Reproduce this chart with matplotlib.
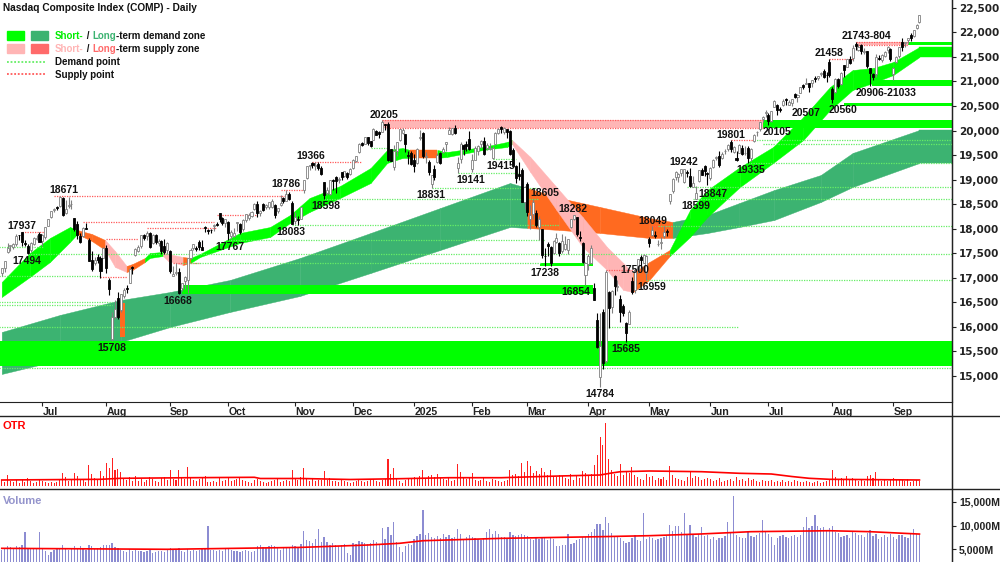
#!/usr/bin/env python3
"""Nasdaq Composite daily chart with demand/supply zones, OTR and volume panels."""

import matplotlib

matplotlib.use("Agg")
import matplotlib.pyplot as plt
import numpy as np
from matplotlib.lines import Line2D
from matplotlib.patches import Rectangle

W, H = 1000, 562

# daily OHLC, 10 Jun 2024 .. 15 Sep 2025, one line per month
opens = [
    17090, 17200, 17530, 17650, 17620, 17690, 17870, 17930, 17700, 17640, 17560, 17690, 17800, 17890,
    17740, 17830, 18060, 18230, 18390, 18440, 18460, 18620, 18310, 18460, 18500, 18210, 18100, 17850, 17860, 18010, 17770, 17360, 17300, 17420, 17400, 17410,
    17600, 16960, 15750, 16200, 16580, 16350, 16630, 16800, 16900, 17220, 17460, 17540, 17640, 17870, 17850, 17920, 17700, 17880, 17700, 17750, 17640, 17570,
    17540, 17040, 17100, 17120, 16800, 16930, 16950, 17400, 17600, 17600, 17730, 17620, 18030, 17980, 17980, 18060, 18100, 18310, 18220, 18110,
    18140, 17860, 17850, 18110, 18090, 17990, 18180, 18220, 18250, 18400, 18500, 18330, 18510, 18450, 18450, 18450, 18490, 18360, 18480, 18620, 18570, 18710, 18530,
    18150, 18200, 18200, 18780, 19030, 19280, 19330, 19280, 19320, 19240, 18950, 18720, 18700, 19000, 19050, 18990, 19150, 19070, 19140, 19110,
    19240, 19370, 19560, 19740, 19730, 19860, 19780, 19800, 19990, 19980, 19980, 20130, 20130, 19630, 19250, 19580, 19800, 19950, 19920, 19510, 19550,
    19400, 19340, 19850, 19940, 19460, 19360, 18920, 19220, 19350, 19550, 19570, 19730, 19930, 19930, 20050, 19230, 19410, 19700, 19720, 19830,
    19220, 19400, 19580, 19720, 19790, 19650, 19620, 19440, 19720, 19950, 20080, 19970, 20030, 19990, 19610, 19280, 19120, 19200, 18540,
    18920, 18200, 18300, 18320, 18040, 17990, 17440, 17680, 17620, 17500, 17730, 17710, 17540, 17590, 17560, 18040, 18200, 18230, 17840, 17700, 17060,
    17280, 17300, 16800, 16150, 14980, 16300, 15300, 16720, 16410, 17040, 16820, 16560, 16430, 16070, 16060, 16940, 16750, 17150, 17420, 17310, 17100,
    17790, 17880, 17880, 17680, 17710, 17860, 17960, 18560, 18760, 19060, 19060, 19140, 18950, 19150, 19070, 18850, 18600, 18970, 19200, 19280, 19130,
    19040, 19250, 19440, 19480, 19450, 19580, 19620, 19760, 19570, 19450, 19550, 19650, 19540, 19650, 19440, 19780, 19970, 20030, 20240, 20350,
    20320, 20200, 20480, 20530, 20440, 20530, 20640, 20530, 20560, 20750, 20690, 20770, 20930, 20950, 20960, 20970, 21080, 21070, 21150, 21220, 21140, 21400,
    20850, 20780, 21050, 20950, 21330, 21300, 21450, 21470, 21770, 21650, 21740, 21590, 21610, 21280, 21150, 21150, 21480, 21440, 21520, 21650, 21660,
    21150, 21390, 21510, 21800, 21790, 21840, 21950, 21920, 22080, 22220,
]
highs = [
    17195, 17345, 17700, 17670, 17700, 17900, 17880, 17937, 17760, 17690, 17730, 17830, 17870, 17940,
    17900, 18030, 18190, 18370, 18420, 18460, 18671, 18640, 18580, 18640, 18580, 18220, 18160, 17920, 18040, 18120, 17810, 17540, 17430, 17480, 17450, 17630,
    17660, 17000, 16300, 16550, 16720, 16680, 16790, 16860, 17190, 17250, 17600, 17660, 17880, 17900, 17950, 17940, 17900, 17900, 17800, 17780, 17800, 17720,
    17560, 17250, 17300, 17200, 16900, 17030, 17400, 17600, 17690, 17640, 17780, 17780, 18060, 18000, 18000, 18090, 18130, 18330, 18240, 18200,
    18150, 17980, 18010, 18140, 18110, 18200, 18300, 18320, 18360, 18530, 18560, 18380, 18530, 18510, 18550, 18600, 18500, 18430, 18690, 18640, 18786, 18750, 18560,
    18340, 18260, 18450, 18990, 19280, 19300, 19366, 19350, 19360, 19280, 18960, 18840, 19000, 19010, 19080, 19060, 19160, 19180, 19160, 19230,
    19410, 19490, 19740, 19770, 19870, 19870, 19790, 20050, 20010, 20000, 20205, 20140, 20180, 19630, 19700, 19770, 20030, 20050, 19930, 19590, 19580,
    19520, 19640, 20010, 19960, 19560, 19390, 19100, 19290, 19550, 19560, 19660, 19770, 20070, 20060, 20120, 19460, 19760, 19720, 19780, 20000,
    19520, 19680, 19700, 19800, 19860, 19740, 19740, 19680, 19960, 20050, 20090, 20070, 20040, 20020, 19640, 19300, 19350, 19230, 18870,
    18950, 18490, 18605, 18380, 18250, 18000, 17610, 17730, 17640, 17770, 17920, 17720, 17890, 17850, 17800, 18200, 18282, 18240, 17960, 17720, 17320,
    17480, 17660, 16900, 16290, 16290, 16360, 17150, 16730, 16760, 17060, 16960, 16640, 16470, 16090, 16340, 17010, 17190, 17390, 17460, 17480, 17470,
    17840, 18049, 17950, 17780, 17830, 18050, 17990, 18710, 19030, 19170, 19130, 19220, 19220, 19190, 19242, 19070, 18870, 19200, 19230, 19290, 19160,
    19250, 19420, 19480, 19590, 19560, 19620, 19730, 19801, 19680, 19580, 19730, 19700, 19680, 19690, 19640, 19920, 20000, 20170, 20290, 20420,
    20350, 20400, 20630, 20550, 20480, 20640, 20660, 20620, 20650, 20770, 20750, 20890, 20950, 21080, 20970, 21020, 21110, 21110, 21200, 21250, 21200, 21458,
    20880, 21060, 21060, 21190, 21340, 21460, 21510, 21743, 21804, 21760, 21760, 21680, 21620, 21280, 21180, 21550, 21540, 21560, 21620, 21720, 21680,
    21290, 21520, 21710, 21880, 21810, 21880, 21990, 22050, 22180, 22360,
]
lows = [
    17040, 17110, 17510, 17540, 17580, 17640, 17760, 17640, 17640, 17494, 17520, 17660, 17760, 17720,
    17650, 17800, 18050, 18220, 18350, 18380, 18440, 18250, 18300, 18420, 18400, 17960, 17800, 17700, 17840, 17990, 17340, 17130, 17260, 17300, 17000, 17400,
    17100, 16650, 15708, 16170, 16170, 16300, 16580, 16700, 16890, 17080, 17440, 17520, 17600, 17780, 17780, 17600, 17680, 17690, 17640, 17480, 17480, 17480,
    17100, 17030, 17060, 16668, 16740, 16780, 16700, 17380, 17570, 17540, 17570, 17560, 17940, 17900, 17920, 17960, 18050, 18140, 18080, 18030,
    17767, 17800, 17830, 17960, 17900, 17960, 18140, 18180, 18240, 18380, 18230, 18260, 18360, 18400, 18400, 18420, 18210, 18310, 18470, 18520, 18560, 18580, 18090,
    18100, 18083, 18190, 18720, 19020, 19200, 19240, 19200, 19190, 19100, 18598, 18690, 18690, 18780, 18730, 18940, 19000, 19050, 19020, 19100,
    19220, 19360, 19540, 19680, 19730, 19710, 19660, 19800, 19900, 19850, 19980, 20020, 19370, 19370, 19200, 19480, 19780, 19920, 19560, 19320, 19290,
    19150, 19320, 19800, 19440, 19330, 19100, 18831, 18990, 19340, 19320, 19540, 19580, 19920, 19900, 19930, 19141, 19340, 19510, 19580, 19600,
    19150, 19390, 19500, 19650, 19500, 19600, 19600, 19415, 19700, 19930, 19950, 19920, 19840, 19500, 19270, 18930, 19000, 18540, 18400,
    18250, 17990, 18200, 18030, 17770, 17400, 17240, 17450, 17240, 17490, 17700, 17450, 17500, 17560, 17480, 18020, 18170, 17850, 17750, 17300, 16854,
    17150, 17280, 16540, 15580, 14784, 15140, 15260, 15980, 16290, 16640, 16730, 16100, 16220, 15685, 16050, 16670, 16700, 17090, 17200, 17300, 16959,
    17620, 17860, 17820, 17640, 17590, 17820, 17860, 18500, 18720, 19000, 18960, 19080, 18940, 19050, 18850, 18847, 18599, 18960, 19090, 19080, 18900,
    18990, 19230, 19390, 19250, 19420, 19530, 19580, 19570, 19550, 19380, 19540, 19500, 19510, 19335, 19380, 19760, 19890, 20000, 20170, 20280,
    20105, 20180, 20470, 20320, 20380, 20507, 20530, 20520, 20500, 20660, 20580, 20760, 20840, 20940, 20780, 20880, 20990, 21030, 21110, 21060, 20990, 21100,
    20560, 20770, 20870, 20930, 21100, 21290, 21350, 21420, 21650, 21630, 21560, 21560, 21270, 20906, 21030, 21100, 21440, 21400, 21500, 21570, 21420,
    21033, 21380, 21480, 21630, 21710, 21760, 21830, 21900, 22060, 22200,
]
closes = [
    17192, 17343, 17608, 17667, 17689, 17857, 17862, 17721, 17689, 17497, 17718, 17805, 17806, 17733,
    17880, 18029, 18188, 18352, 18403, 18429, 18647, 18283, 18398, 18473, 18509, 17997, 17871, 17727, 18008, 17997, 17342, 17182, 17358, 17370, 17147, 17599,
    17194, 16776, 16200, 16366, 16195, 16660, 16745, 16780, 17188, 17192, 17594, 17631, 17877, 17817, 17918, 17620, 17877, 17726, 17754, 17556, 17516, 17714,
    17136, 17084, 17128, 16691, 16885, 17026, 17396, 17570, 17684, 17593, 17628, 17573, 18014, 17948, 17974, 18074, 18082, 18190, 18120, 18189,
    17910, 17925, 17918, 18138, 17923, 18183, 18292, 18282, 18343, 18503, 18316, 18367, 18374, 18490, 18540, 18573, 18277, 18415, 18519, 18567, 18712, 18607, 18095,
    18240, 18180, 18439, 18983, 19269, 19287, 19299, 19282, 19231, 19107, 18680, 18792, 18988, 18967, 18972, 19004, 19055, 19175, 19060, 19218,
    19404, 19480, 19735, 19701, 19860, 19737, 19687, 20034, 19903, 19927, 20173, 20109, 19393, 19372, 19573, 19764, 20031, 20020, 19722, 19487, 19311,
    19280, 19622, 19864, 19490, 19479, 19162, 19088, 19044, 19511, 19339, 19630, 19757, 20009, 20054, 19954, 19342, 19734, 19632, 19681, 19627,
    19392, 19654, 19692, 19791, 19523, 19714, 19643, 19650, 19945, 20027, 20041, 20056, 19962, 19524, 19287, 19027, 19075, 18544, 18847,
    18350, 18285, 18553, 18070, 18196, 17468, 17436, 17648, 17303, 17754, 17808, 17504, 17751, 17692, 17784, 18189, 18272, 17899, 17804, 17323, 17299,
    17450, 17601, 16551, 15588, 15603, 15268, 17125, 16387, 16724, 16832, 16824, 16307, 16287, 15870, 16300, 16708, 17166, 17383, 17366, 17461, 17446,
    17711, 17978, 17844, 17690, 17738, 17929, 17929, 18708, 19010, 19146, 19112, 19211, 19215, 19143, 18872, 18926, 18737, 19199, 19100, 19175, 19114,
    19243, 19399, 19460, 19298, 19530, 19591, 19715, 19615, 19662, 19407, 19701, 19521, 19546, 19447, 19631, 19913, 19974, 20168, 20273, 20370,
    20202, 20393, 20601, 20412, 20418, 20611, 20630, 20586, 20640, 20677, 20730, 20885, 20896, 20974, 20893, 21020, 21057, 21108, 21179, 21098, 21130, 21122,
    20650, 21053, 20916, 21169, 21243, 21450, 21385, 21682, 21713, 21711, 21623, 21630, 21315, 21172, 21100, 21497, 21449, 21544, 21590, 21705, 21456,
    21280, 21498, 21707, 21700, 21799, 21879, 21886, 22043, 22141, 22349,
]

# OTR bars (panel units) and volume (millions of shares)
otr = [
    6, 4, 11, 5, 4, 6, 3, 7, 4, 8, 5, 3, 4, 6,
    5, 4, 3, 4, 3, 4, 6, 13, 9, 5, 6, 13, 10, 7, 6, 4, 21, 12, 8, 6, 15, 10,
    23, 18, 28, 16, 17, 14, 8, 6, 9, 5, 10, 5, 7, 4, 6, 9, 7, 5, 4, 8, 9, 6,
    16, 7, 6, 16, 8, 7, 19, 8, 6, 5, 7, 9, 10, 4, 4, 5, 4, 8, 5, 6,
    9, 5, 6, 7, 8, 6, 5, 4, 3, 6, 7, 5, 4, 3, 4, 5, 6, 7, 4, 5, 6, 5, 16,
    7, 6, 9, 18, 8, 5, 7, 5, 6, 6, 15, 6, 8, 5, 5, 4, 6, 5, 4, 3,
    4, 5, 6, 5, 4, 5, 6, 7, 5, 4, 6, 7, 27, 12, 18, 7, 5, 3, 6, 8, 7,
    9, 8, 10, 16, 7, 10, 11, 9, 12, 8, 7, 6, 9, 5, 6, 22, 14, 8, 7, 9,
    13, 6, 5, 6, 9, 5, 4, 7, 6, 5, 4, 5, 6, 16, 11, 12, 10, 23, 14,
    25, 20, 13, 15, 12, 18, 14, 11, 16, 10, 9, 11, 10, 8, 7, 12, 6, 11, 8, 15, 13,
    10, 12, 21, 31, 49, 41, 63, 27, 16, 12, 10, 22, 11, 14, 13, 19, 11, 9, 7, 6, 12,
    9, 10, 6, 8, 7, 9, 6, 20, 11, 8, 7, 6, 5, 9, 14, 8, 10, 9, 6, 7, 8,
    7, 5, 6, 8, 4, 5, 6, 7, 5, 9, 6, 7, 5, 8, 6, 7, 5, 4, 6, 5,
    5, 6, 4, 5, 4, 6, 4, 5, 4, 6, 5, 4, 4, 5, 4, 3, 4, 5, 3, 4, 5, 6,
    16, 9, 7, 8, 6, 10, 7, 8, 6, 5, 6, 5, 10, 11, 8, 14, 6, 5, 6, 5, 7,
    8, 6, 7, 6, 5, 7, 4, 5, 6, 5,
]
volume = [
    4900, 5200, 5700, 5400, 5100, 5600, 5500, 5800, 8700, 5200, 5000, 5300, 5100, 8700,
    5000, 4600, 3900, 4400, 4800, 5000, 5300, 5800, 5200, 4900, 5100, 5600, 5300, 5600, 5000, 4800, 5900, 5600, 5000, 5200, 5400, 5800,
    5900, 6000, 6400, 5500, 5300, 4900, 4700, 4400, 5000, 4600, 4800, 4600, 4700, 4400, 4600, 4800, 4200, 4400, 4600, 4700, 4500, 5000,
    5300, 4800, 4900, 5200, 4600, 4500, 5000, 4700, 4800, 4600, 4900, 5100, 5300, 9900, 4800, 4900, 4700, 4900, 4700, 5200,
    5000, 4900, 4700, 4600, 4500, 4700, 4800, 4600, 4500, 4700, 5600, 5800, 5500, 5300, 5700, 5900, 5600, 5400, 4900, 5200, 5400, 5500, 5900,
    5700, 5500, 6200, 8900, 7000, 6800, 6400, 7200, 9250, 6600, 7500, 6500, 6000, 6300, 5800, 5600, 5900, 6200, 4300, 3900,
    6400, 6200, 6800, 6600, 6300, 6200, 6400, 7000, 6500, 6200, 9400, 7200, 9600, 8000, 10700, 6500, 5400, 4400, 5600, 6200, 6000,
    7200, 7800, 8300, 13200, 8000, 8400, 7600, 7300, 7800, 7400, 8200, 7600, 7900, 7300, 7600, 9200, 8300, 7200, 7500, 8000,
    7600, 7400, 7200, 7000, 7300, 8700, 9200, 8300, 8900, 8200, 7600, 7500, 7400, 8600, 8000, 7800, 8100, 8300, 7900,
    7800, 7200, 7000, 7600, 7100, 7500, 7400, 7000, 7300, 7200, 5700, 5600, 5800, 5900, 8300, 6200, 6400, 7000, 7200, 7500, 7600,
    8300, 8700, 9300, 10300, 10300, 9000, 11850, 10500, 8500, 7800, 7600, 7300, 6800, 6400, 6600, 7400, 7900, 7000, 6800, 12560, 7200,
    7600, 7400, 7000, 7100, 7300, 7600, 7800, 10150, 8800, 9900, 9900, 8600, 12700, 8300, 10150, 8000, 7600, 8200, 9600, 7800, 8000,
    7200, 7600, 7000, 7400, 7300, 7800, 10800, 8400, 16200, 8000, 7500, 7300, 7400, 8600, 7800, 7600, 8100, 8400, 11150, 8800,
    8200, 7600, 6000, 7400, 7800, 8000, 7600, 7400, 7800, 7900, 7600, 8100, 9600, 11700, 9500, 9800, 12300, 10000, 9400, 9600, 9000, 9400,
    9800, 8600, 8400, 7600, 7800, 8000, 7400, 8700, 8500, 7900, 8100, 7600, 8400, 9000, 7800, 8300, 7100, 7600, 7900, 7600, 8200,
    7500, 7200, 7900, 8000, 7600, 7400, 8200, 9250, 8300, 8100,
]

# moving averages drawn in the lower panels (trading-day index, value)
otr_ma_x = [0, 34, 41, 65, 87, 89, 103, 120, 137, 154, 172, 192, 206, 210, 213, 223, 241, 254, 265, 272, 278, 285, 316]
otr_ma = [6, 6.7, 7.7, 8.3, 8.7, 7.5, 7.5, 6.5, 7.3, 8.3, 8.3, 10, 11, 13, 14.3, 15, 14.3, 12.7, 12, 9.5, 7.7, 6.7, 6]
vol_ma_x = [0, 57, 103, 126, 137, 145, 172, 206, 223, 240, 258, 285, 299, 316]
vol_ma = [5200, 5000, 5400, 5900, 6260, 6800, 7300, 7650, 7860, 8200, 8700, 8900, 8700, 8200]

# month ticks (trading-day index of first session)
month_ticks = [14, 36, 58, 78, 101, 121, 142, 162, 181, 202, 223, 244, 264, 286, 307]
month_labels = ["Jul", "Aug", "Sep", "Oct", "Nov", "Dec", "2025", "Feb", "Mar", "Apr", "May", "Jun", "Jul", "Aug", "Sep"]

# short-term zone ribbon: g = demand, p = supply, o = supply (dark)
st_x = [0, 9.7, 16.6, 23.5, 26, 31, 35.6, 39, 43, 45, 49.3, 51, 55.5, 57.3, 62.4, 65, 68.3, 82, 92.4, 99.3,
        106, 116.5, 127, 132.7, 138, 140.6, 150, 153.3, 165.7, 174, 175.7, 182, 191, 200, 208.4, 214, 217.4,
        223, 230, 237, 243, 254.2, 265.6, 276, 285.2, 293, 300, 307, 316, 327.2]
st_hi = [16915, 17505, 17811, 18035, 17974, 17893, 17770, 17546, 17241, 17281, 17404, 17505, 17526, 17485, 17424,
         17404, 17485, 17913, 18035, 18280, 18626, 18870, 19237, 19604, 19644, 19604, 19604, 19563, 19665, 19767,
         19807, 19461, 18850, 18239, 17628, 17302, 17098, 17322, 17567, 18381, 18789, 19257, 19665, 20276, 20887,
         21233, 21274, 21396, 21702, 21702]
st_lo = [16609, 17017, 17322, 17730, 17893, 17750, 17567, 17220, 17118, 17159, 17322, 17404, 17444, 17343, 17261,
         17302, 17424, 17709, 17831, 18117, 18341, 18626, 18931, 19339, 19441, 19441, 19441, 19461, 19604, 19665,
         19726, 19155, 18381, 17628, 17159, 16752, 16711, 16956, 17444, 17831, 18239, 18850, 19339, 19807, 20418,
         20826, 20969, 21131, 21498, 21498]
st_state = "gggg" + "oo" + "pp" + "oo" + "gg" + "pp" + "o" + "g" * 10 + "o" + "g" * 4 + "p" * 6 + "oo" + "g" * 12

# long-term zone ribbon: G = demand, O = supply
lt_x = [0, 20, 41, 58, 78.6, 102.7, 127, 151, 175, 181, 192, 206, 223, 231, 243, 254, 266, 282, 293, 316, 327.2]
lt_hi = [15896, 16243, 16548, 16711, 16956, 17404, 17913, 18422, 18931, 18830, 18626, 18443, 18218, 18137, 18280,
         18524, 18789, 19094, 19543, 20011, 20011]
lt_lo = [15041, 15326, 15693, 15998, 16304, 16630, 17098, 17567, 18035, 18015, 17974, 17913, 17811, 17811, 17913,
         18035, 18178, 18544, 18850, 19339, 19339]
lt_state = "G" * 9 + "O" * 4 + "G" * 8

# horizontal zones
zone_lo = [15200, 16668, 17238, 20050, 20050, 21743, 21743, 20906, 20507, 15800]
zone_hi = [15708, 16854, 17300, 20205, 20205, 21804, 21804, 21033, 20560, 16480]
zone_from = [-1, 62, 185.4, 131, 262, 294, 312, 299.5, 290, 40.7]
zone_to = [328, 203.6, 203.6, 262, 328, 312, 328, 328, 328, 42.5]
zone_kind = ["d", "d", "d", "s", "d", "s", "d", "d", "d", "S"]

# demand (d) / supply (s) points
point_level = [17937, 18671, 18140, 18020, 17790, 17300, 17020, 18280, 18786, 19366, 19801, 21458, 17150, 18049,
               15163, 16004, 16513, 16446, 17037, 17634, 17494, 17300, 17767, 18083, 18598, 18831, 19141, 19415,
               19650, 16959, 18049, 18599, 18847, 19335, 19801, 19726]
point_from = [7, 18, 28, 50, 36, 59, 34, 74, 96, 107, 251, 285, 208, 224,
              -1, -1, -1, -1, -1, -1, 9, 62, 78, 100, 111, 148, 157, 169,
              127, 222, 226, 238, 236, 257, 259, 262]
point_to = [14.5, 98, 73, 74, 47, 68, 43, 88, 104, 124, 259, 293, 218, 230,
            328, 254, 38, 38, 34, 14.5, 328, 186, 187, 192, 185, 184, 178, 177,
            133, 328, 328, 328, 328, 328, 328, 328]
point_kind = list("s" * 14 + "d" * 22)

# price annotations
label_text = ["17937", "17494", "18671", "15708", "16668", "17767", "18083", "18786", "18598", "19366", "20205",
              "18831", "19141", "19415", "18605", "18282", "17238", "16854", "14784", "15685", "16959", "17500",
              "18049", "19242", "18847", "18599", "19801", "19335", "20105", "20507", "20560", "21458", "21743-804",
              "20906-21033"]
label_idx = [6.8, 8.7, 21.5, 38, 60.7, 78.6, 99.6, 97.9, 111.7, 106.5, 131.6, 147.8, 161.6, 171.9, 187.1, 196.7,
             187.1, 197.8, 206, 215, 223.9, 218.1, 224.3, 234.9, 244.9, 239.1, 251.1, 258, 267, 277, 289.7,
             284.9, 297.6, 304.5]
label_level = [17937, 17494, 18671, 15708, 16668, 17767, 18083, 18786, 18598, 19366, 20205, 18831, 19141, 19415,
               18605, 18282, 17238, 16854, 14784, 15685, 16959, 17302, 18049, 19242, 18847, 18599, 19801, 19335,
               20105, 20507, 20560, 21458, 21804, 20906]
label_side = ["a", "b", "a", "b", "b", "b", "b", "a", "b", "a", "a", "b", "b", "b", "a", "a", "b", "b", "b", "b",
              "b", "b", "a", "a", "b", "b", "a", "b", "b", "b", "b", "a", "a", "b"]

BRIGHT = "#00FF00"
SEA = "#3CB371"
PINK = "#FFB5B5"
ORANGE = "#FF6A20"
SALMON = "#FF6A6A"
DOT_G = "#66EE66"
DOT_R = "#FF5A5A"
AXIS = "#222222"
FONT = "Liberation Sans"


def ribbon(ax, xs, hi, lo, states, colors, z):
    for i in range(len(xs) - 1):
        c = colors[states[i]]
        ax.fill_between([xs[i], xs[i + 1]], [lo[i], lo[i + 1]], [hi[i], hi[i + 1]],
                        facecolor=c, edgecolor=c, lw=0.3, zorder=z)


def rich_text(fig, x, y, parts, size):
    fig.canvas.draw()
    r = fig.canvas.get_renderer()
    for s, c in parts:
        t = fig.text(x, y, s, color=c, fontsize=size, fontweight="bold", family=FONT, va="baseline")
        x += t.get_window_extent(r).width / fig.bbox.width


def main() -> int:
    n = len(closes)
    assert all(len(a) == n for a in (opens, highs, lows, otr, volume)), [len(a) for a in (opens, highs, lows, closes, otr, volume)]
    x = np.arange(n)
    o, h, l, c = (np.asarray(a, float) for a in (opens, highs, lows, closes))

    fig = plt.figure(figsize=(W / 100, H / 100), dpi=100)
    ax = fig.add_axes([0, 160 / H, 0.952, 402 / H])
    ax_otr = fig.add_axes([0, 73 / H, 0.952, 73 / H])
    ax_vol = fig.add_axes([0, 0, 0.952, 73 / H])
    xlim = (-0.6, 327.2)

    # --- main price panel ---
    ribbon(ax, lt_x, lt_hi, lt_lo, lt_state, {"G": SEA, "O": ORANGE}, 1)
    ribbon(ax, st_x, st_hi, st_lo, st_state, {"g": BRIGHT, "p": PINK, "o": ORANGE}, 2)

    zone_fc = {"d": BRIGHT, "s": PINK, "S": ORANGE}
    for lo_, hi_, a, b, k in zip(zone_lo, zone_hi, zone_from, zone_to, zone_kind):
        ax.add_patch(Rectangle((a, lo_), b - a, hi_ - lo_, facecolor=zone_fc[k], edgecolor="none", zorder=3))
        if k == "s":
            ax.hlines([lo_, hi_], a, b, colors=DOT_R, linestyles=(0, (1, 1)), lw=0.9, zorder=3.5)

    for lvl, a, b, k in zip(point_level, point_from, point_to, point_kind):
        ax.hlines(lvl, a, b, colors=DOT_G if k == "d" else DOT_R, linestyles=(0, (1, 1)), lw=0.9, zorder=4)

    up = c >= o
    dn = ~up
    ax.vlines(x[up], l[up], h[up], color="#808080", lw=0.8, zorder=5)
    ax.vlines(x[dn], l[dn], h[dn], color="black", lw=0.8, zorder=5)
    ax.bar(x[up], np.maximum(c[up] - o[up], 8), bottom=o[up], width=0.7, color="white",
           edgecolor="#808080", lw=0.6, zorder=6)
    ax.bar(x[dn], np.maximum(o[dn] - c[dn], 8), bottom=c[dn], width=0.7, color="black",
           edgecolor="black", lw=0.6, zorder=6)

    for txt, xi, lvl, side in zip(label_text, label_idx, label_level, label_side):
        above = side == "a"
        ax.annotate(txt, (xi, lvl), xytext=(0, 0.5 if above else -1.5), textcoords="offset points",
                    ha="center", va="bottom" if above else "top", fontsize=7.5, fontweight="bold",
                    family=FONT, color="#111111", zorder=8)

    ax.set_xlim(*xlim)
    ax.set_ylim(14470, 22659)
    ax.yaxis.tick_right()
    yt = list(range(15000, 22501, 500))
    ax.set_yticks(yt)
    ax.set_yticklabels([f"{v:,}" for v in yt], fontsize=7.5, fontweight="bold", family="DejaVu Sans", color=AXIS)
    ax.tick_params(axis="y", direction="out", length=3, pad=2, color=AXIS)
    ax.set_xticks(month_ticks)
    ax.set_xticklabels(month_labels, fontsize=7.6, fontweight="bold", family=FONT, color=AXIS, ha="left")
    ax.tick_params(axis="x", direction="out", length=3, pad=0.5, color=AXIS)
    for s in ("top", "left"):
        ax.spines[s].set_visible(False)
    for s in ("right", "bottom"):
        ax.spines[s].set_color(AXIS)

    # --- OTR panel ---
    ax_otr.bar(x, otr, width=0.35, color="#FF2020", zorder=2)
    ax_otr.plot(otr_ma_x, otr_ma, color="#FF0000", lw=1.2, zorder=3)
    ax_otr.set_xlim(*xlim)
    ax_otr.set_ylim(-3, 70)
    ax_otr.set_xticks([])
    ax_otr.set_yticks([])
    ax_otr.text(0.003, 0.86, "OTR", transform=ax_otr.transAxes, color="#FF0000", fontsize=8,
                fontweight="bold", family=FONT, va="center")

    # --- volume panel ---
    ax_vol.bar(x, volume, width=0.45, color="#8C8CD2", zorder=2)
    ax_vol.plot(vol_ma_x, vol_ma, color="#FF0000", lw=1.2, zorder=3)
    ax_vol.set_xlim(*xlim)
    ax_vol.set_ylim(2330, 17670)
    ax_vol.set_xticks([])
    ax_vol.yaxis.tick_right()
    vt = [5000, 10000, 15000]
    ax_vol.set_yticks(vt)
    ax_vol.set_yticklabels([f"{v:,}M" for v in vt], fontsize=7.6, fontweight="bold", family=FONT, color=AXIS)
    ax_vol.tick_params(axis="y", direction="out", length=3, pad=2, color=AXIS)
    ax_vol.text(0.003, 0.84, "Volume", transform=ax_vol.transAxes, color="#9494CC", fontsize=8,
                fontweight="bold", family=FONT, va="center")

    for a in (ax_otr, ax_vol):
        for s in ("top", "left", "bottom"):
            a.spines[s].set_visible(False)
        a.spines["right"].set_color(AXIS)

    # frame lines across the full width
    for yy in (416, 489):
        fig.add_artist(Line2D([0, 1], [1 - yy / H] * 2, transform=fig.transFigure, color=AXIS, lw=1))
    fig.add_artist(Line2D([0.952, 0.952], [0, 1], transform=fig.transFigure, color=AXIS, lw=1))

    # --- title and legend ---
    fig.text(3 / W, 1 - 8 / H, "Nasdaq Composite Index (COMP) - Daily", fontsize=7.3, fontweight="bold",
             family=FONT, va="center", color="#111111")
    for (x0, col) in ((7, BRIGHT), (31, SEA)):
        fig.add_artist(Rectangle((x0 / W, 1 - 39.5 / H), 17 / W, 9 / H, transform=fig.transFigure, color=col))
    for (x0, col) in ((7, PINK), (31, SALMON)):
        fig.add_artist(Rectangle((x0 / W, 1 - 52.5 / H), 17 / W, 9 / H, transform=fig.transFigure, color=col))
    fig.add_artist(Line2D([7 / W, 45 / W], [1 - 61.5 / H] * 2, transform=fig.transFigure, color=DOT_G,
                          lw=1.3, ls=(0, (1, 1))))
    fig.add_artist(Line2D([7 / W, 45 / W], [1 - 74 / H] * 2, transform=fig.transFigure, color=DOT_R,
                          lw=1.3, ls=(0, (1, 1))))
    rich_text(fig, 55 / W, 1 - 39 / H, [("Short-", "#00EE00"), (" / ", "#111111"), ("Long", SEA),
                                        ("-term demand zone", "#111111")], 7.0)
    rich_text(fig, 55 / W, 1 - 52 / H, [("Short-", PINK), (" / ", "#111111"), ("Long", SALMON),
                                        ("-term supply zone", "#111111")], 7.0)
    rich_text(fig, 55 / W, 1 - 65 / H, [("Demand point", "#111111")], 7.0)
    rich_text(fig, 55 / W, 1 - 78 / H, [("Supply point", "#111111")], 7.0)

    fig.savefig("out.png", dpi=100)
    return 0


if __name__ == "__main__":
    raise SystemExit(main())
